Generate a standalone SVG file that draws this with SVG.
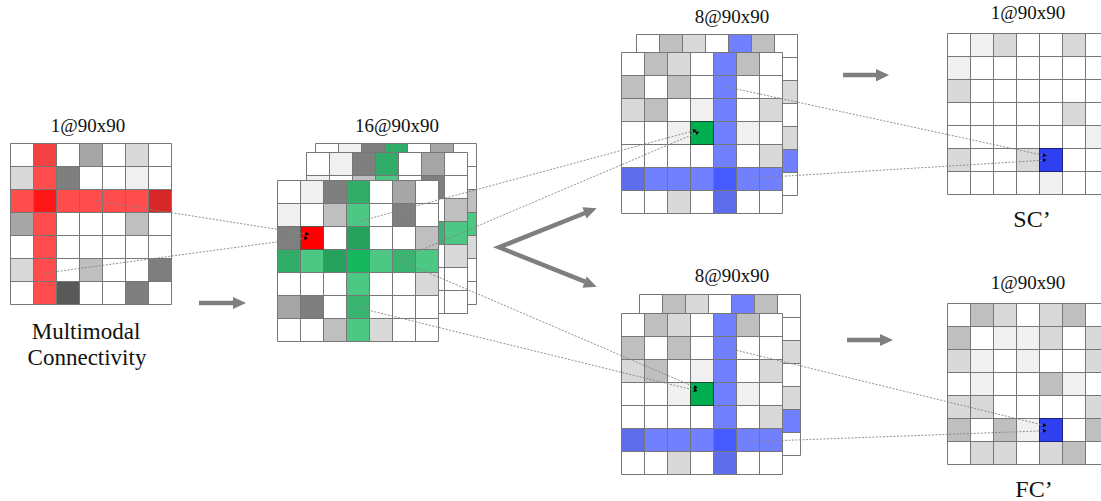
<svg xmlns="http://www.w3.org/2000/svg" xmlns:xlink="http://www.w3.org/1999/xlink" width="1101" height="501" viewBox="0 0 1101 501">
<style>
.v{fill:#f0f0f0}.l{fill:#d9d9d9}.m{fill:#bfbfbf}.g{fill:#a6a6a6}.d{fill:#7f7f7f}.k{fill:#595959}
.br{fill:#ff0000;fill-opacity:.7}.bg{fill:#00b050;fill-opacity:.7}.bb{fill:#334aff;fill-opacity:.7}
.t{font-family:"Liberation Serif","Times New Roman",serif;fill:#111;text-anchor:middle}
.dot{fill:none;stroke:#858585;stroke-width:.9;stroke-dasharray:2 1.5;marker-end:url(#ah)}
.arr{fill:#7f7f7f}
.sh{fill:none;stroke:#7f7f7f;stroke-width:4.5}
</style>
<defs>
<marker id="ah" viewBox="0 0 6 6" refX="6" refY="3" markerWidth="4" markerHeight="4" orient="auto" markerUnits="userSpaceOnUse"><path d="M0 0L6 3L0 6z" fill="#000"/></marker>
<path id="gl" d="M0 0H161M0 23H161M0 46H161M0 69H161M0 92H161M0 115H161M0 138H161M0 161H161M0 0V161M23 0V161M46 0V161M69 0V161M92 0V161M115 0V161M138 0V161M161 0V161" fill="none" stroke="#777" stroke-width="1"/>
<g id="gm">
<rect width="161" height="161" fill="#fff"/>
<rect class="v" x="23" y="0" width="23" height="23"/><rect class="v" x="0" y="23" width="23" height="23"/>
<rect class="d" x="46" y="0" width="23" height="23"/><rect class="d" x="115" y="23" width="23" height="23"/><rect class="d" x="0" y="46" width="23" height="23"/><rect class="d" x="69" y="46" width="23" height="23"/><rect class="d" x="46" y="69" width="23" height="23"/><rect class="d" x="23" y="115" width="23" height="23"/>
<rect class="g" x="69" y="0" width="23" height="23"/><rect class="g" x="115" y="0" width="23" height="23"/><rect class="g" x="0" y="69" width="23" height="23"/><rect class="g" x="0" y="115" width="23" height="23"/>
<rect class="m" x="46" y="23" width="23" height="23"/><rect class="m" x="138" y="46" width="23" height="23"/><rect class="m" x="115" y="69" width="23" height="23"/><rect class="m" x="69" y="115" width="23" height="23"/><rect class="m" x="46" y="138" width="23" height="23"/>
<rect class="l" x="138" y="92" width="23" height="23"/><rect class="l" x="92" y="138" width="23" height="23"/>
<rect class="bg" x="69" y="0" width="23" height="161"/><rect class="bg" x="0" y="69" width="161" height="23"/>
<use href="#gl"/>
</g>
<g id="g8">
<rect width="161" height="161" fill="#fff"/>
<rect class="m" x="23" y="0" width="23" height="23"/><rect class="m" x="115" y="0" width="23" height="23"/><rect class="m" x="0" y="23" width="23" height="23"/><rect class="m" x="46" y="23" width="23" height="23"/><rect class="m" x="23" y="46" width="23" height="23"/><rect class="m" x="0" y="115" width="23" height="23"/><rect class="m" x="92" y="138" width="23" height="23"/>
<rect class="l" x="46" y="0" width="23" height="23"/><rect class="l" x="0" y="46" width="23" height="23"/><rect class="l" x="138" y="46" width="23" height="23"/><rect class="l" x="138" y="92" width="23" height="23"/><rect class="l" x="46" y="138" width="23" height="23"/>
<rect class="v" x="69" y="46" width="23" height="23"/><rect class="v" x="46" y="69" width="23" height="23"/><rect class="v" x="115" y="69" width="23" height="23"/>
<rect class="bb" x="92" y="0" width="23" height="161"/><rect class="bb" x="0" y="115" width="161" height="23"/>
<use href="#gl"/>
</g>
</defs>
<rect width="1101" height="501" fill="#fff"/>

<g id="node-input">
<text class="t" x="88" y="131.5" font-size="19">1@90x90</text>
<g transform="translate(10.5,143.5)">
<rect width="161" height="161" fill="#fff"/>
<rect class="l" x="23" y="0" width="23" height="23"/><rect class="l" x="115" y="0" width="23" height="23"/><rect class="l" x="0" y="23" width="23" height="23"/><rect class="l" x="0" y="115" width="23" height="23"/>
<rect class="g" x="69" y="0" width="23" height="23"/><rect class="g" x="0" y="69" width="23" height="23"/>
<rect class="d" x="46" y="23" width="23" height="23"/><rect class="d" x="138" y="46" width="23" height="23"/><rect class="d" x="138" y="115" width="23" height="23"/><rect class="d" x="115" y="138" width="23" height="23"/>
<rect class="v" x="115" y="23" width="23" height="23"/>
<rect class="m" x="115" y="69" width="23" height="23"/><rect class="m" x="69" y="115" width="23" height="23"/>
<rect class="k" x="46" y="138" width="23" height="23"/>
<rect class="br" x="23" y="0" width="23" height="161"/><rect class="br" x="0" y="46" width="161" height="23"/>
<use href="#gl"/>
</g>
<text class="t" x="86" y="339" font-size="23">Multimodal</text>
<text class="t" x="87" y="365" font-size="23">Connectivity</text>
</g>

<g id="node-conv16">
<text class="t" x="397" y="132" font-size="19">16@90x90</text>
<use href="#gm" x="315.5" y="143.5"/>
<use href="#gm" x="306.5" y="152.5"/>
<use href="#gm" x="277.5" y="180.5"/>
<rect x="300.5" y="226.5" width="23" height="23" fill="#ff0000" stroke="#555" stroke-width="1"/>
</g>

<g id="node-sc8">
<text class="t" x="732" y="23" font-size="19">8@90x90</text>
<use href="#g8" x="636.5" y="34.5"/>
<use href="#g8" x="621.5" y="52.5"/>
<rect x="690.5" y="121.5" width="23" height="23" fill="#00b050" stroke="#1d4d2e" stroke-width="1"/>
</g>

<g id="node-fc8">
<text class="t" x="732" y="282" font-size="19">8@90x90</text>
<use href="#g8" x="639.5" y="294.5"/>
<use href="#g8" x="621.5" y="313.5"/>
<rect x="690.5" y="382.5" width="23" height="23" fill="#00b050" stroke="#1d4d2e" stroke-width="1"/>
</g>

<g id="node-sc">
<text class="t" x="1028" y="19" font-size="19">1@90x90</text>
<g transform="translate(947.5,33.5)">
<rect width="161" height="161" fill="#fff"/>
<rect class="v" x="23" y="0" width="23" height="23"/><rect class="v" x="0" y="23" width="23" height="23"/><rect class="v" x="138" y="92" width="23" height="23"/><rect class="v" x="92" y="138" width="23" height="23"/>
<rect class="l" x="46" y="0" width="23" height="23"/><rect class="l" x="115" y="0" width="23" height="23"/><rect class="l" x="0" y="46" width="23" height="23"/><rect class="l" x="115" y="69" width="23" height="23"/><rect class="l" x="0" y="115" width="23" height="23"/><rect class="l" x="69" y="115" width="23" height="23"/>
<use href="#gl"/>
<rect x="92" y="115" width="23" height="23" fill="#3040f0" stroke="#1a2280" stroke-width="1"/>
</g>
<text class="t" x="1032" y="227" font-size="24">SC’</text>
</g>

<g id="node-fc">
<text class="t" x="1028" y="289" font-size="19">1@90x90</text>
<g transform="translate(947.5,303.5)">
<rect width="161" height="161" fill="#fff"/>
<rect class="m" x="23" y="0" width="23" height="23"/><rect class="m" x="115" y="0" width="23" height="23"/><rect class="m" x="0" y="23" width="23" height="23"/><rect class="m" x="92" y="69" width="23" height="23"/><rect class="m" x="0" y="115" width="23" height="23"/><rect class="m" x="46" y="115" width="23" height="23"/><rect class="m" x="138" y="115" width="23" height="23"/><rect class="m" x="115" y="138" width="23" height="23"/>
<rect class="l" x="46" y="0" width="23" height="23"/><rect class="l" x="92" y="0" width="23" height="23"/><rect class="l" x="92" y="23" width="23" height="23"/><rect class="l" x="138" y="23" width="23" height="23"/><rect class="l" x="0" y="46" width="23" height="23"/><rect class="l" x="138" y="46" width="23" height="23"/><rect class="l" x="0" y="92" width="23" height="23"/><rect class="l" x="23" y="92" width="23" height="23"/><rect class="l" x="138" y="92" width="23" height="23"/><rect class="l" x="23" y="138" width="23" height="23"/><rect class="l" x="46" y="138" width="23" height="23"/><rect class="l" x="92" y="138" width="23" height="23"/>
<rect class="v" x="46" y="23" width="23" height="23"/><rect class="v" x="69" y="23" width="23" height="23"/><rect class="v" x="23" y="46" width="23" height="23"/><rect class="v" x="69" y="46" width="23" height="23"/><rect class="v" x="23" y="69" width="23" height="23"/><rect class="v" x="115" y="69" width="23" height="23"/><rect class="v" x="69" y="115" width="23" height="23"/>
<use href="#gl"/>
<rect x="92" y="115" width="23" height="23" fill="#3040f0" stroke="#1a2280" stroke-width="1"/>
</g>
<text class="t" x="1034" y="497" font-size="24">FC’</text>
</g>

<g id="connectors">
<line class="dot" x1="95" y1="200.7" x2="309.3" y2="234.3"/>
<line class="dot" x1="43.3" y1="273.3" x2="308.3" y2="237.7"/>
<line class="dot" x1="360.7" y1="221" x2="696.7" y2="130"/>
<line class="dot" x1="400" y1="259" x2="699.3" y2="131.7"/>
<line class="dot" x1="401" y1="261" x2="697.7" y2="388.3"/>
<line class="dot" x1="360.7" y1="308.3" x2="697.7" y2="391"/>
<line class="dot" x1="726" y1="86.7" x2="1046.7" y2="156"/>
<line class="dot" x1="750" y1="178.3" x2="1046.7" y2="160"/>
<line class="dot" x1="726" y1="347.7" x2="1046.7" y2="426"/>
<line class="dot" x1="750" y1="441.7" x2="1046.7" y2="430.7"/>
<line class="sh" x1="199" y1="303" x2="235" y2="303"/>
<polygon class="arr" points="233,297 246,303 233,309"/>
<polyline class="sh" points="585,213 499,247.3 585,281.7" stroke-width="5" stroke-linejoin="miter" stroke-miterlimit="10"/>
<polygon class="arr" points="586.6,218.5 596.7,208.3 582.4,207.3"/>
<polygon class="arr" points="582.5,287.7 596.7,286.7 586.7,276.5"/>
<line class="sh" x1="843" y1="75" x2="878" y2="75"/>
<polygon class="arr" points="876,69 889,75 876,81.5"/>
<line class="sh" x1="847" y1="340" x2="882" y2="340"/>
<polygon class="arr" points="880,334 893,340 880,346"/>
</g>
</svg>
